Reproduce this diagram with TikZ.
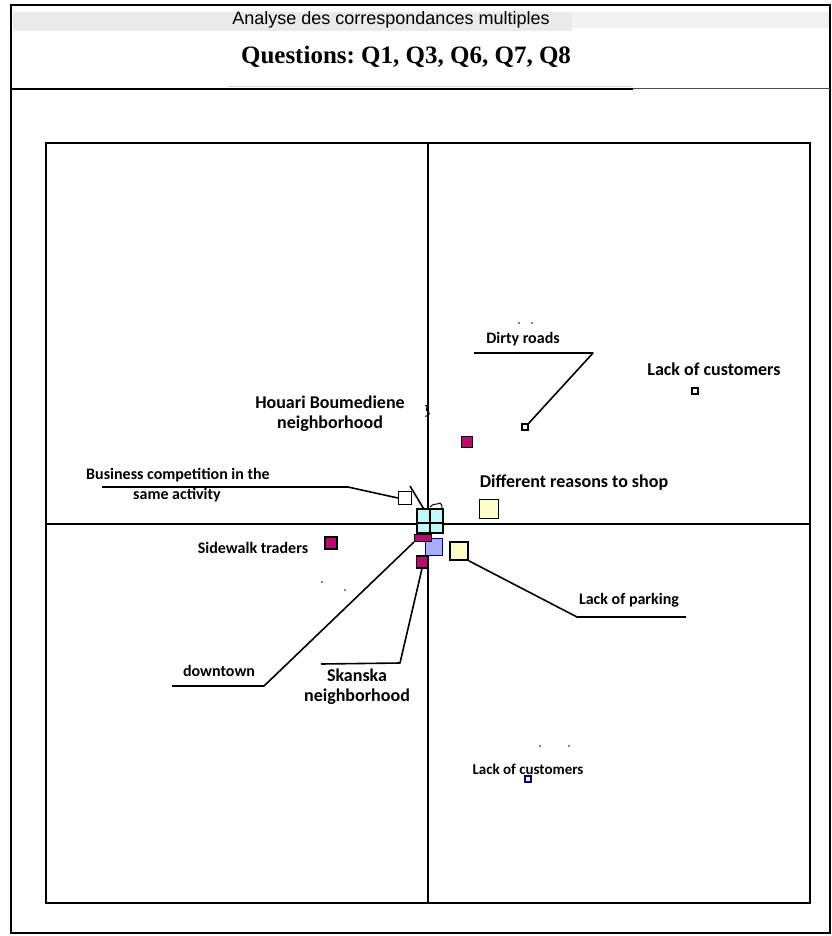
\documentclass[tikz,border=0pt]{standalone}
\usepackage{fontspec}
\setmainfont{Liberation Serif}
\newfontfamily\lblfont{Carlito}
\newfontfamily\hdrfont{Liberation Sans}
\definecolor{magC}{RGB}{185,10,110}
\definecolor{yelC}{RGB}{255,255,200}
\definecolor{cyaC}{RGB}{190,250,250}
\definecolor{bluC}{RGB}{170,172,255}
\definecolor{bandC}{RGB}{234,234,234}
\definecolor{bandD}{RGB}{242,242,242}
\frenchspacing
\begin{document}
\begin{tikzpicture}[x=1pt,y=-1pt,
  labL/.style={font=\lblfont\bfseries\fontsize{18}{20}\selectfont, inner sep=0pt, align=center},
  labS/.style={font=\lblfont\bfseries\fontsize{16}{19}\selectfont, inner sep=0pt, align=center},
  lead/.style={line width=1.6pt, black, line join=round},
  axisline/.style={line width=1.6pt, black},
  frameline/.style={line width=2pt, black},
  mk/.style={rectangle, inner sep=0pt, line width=1.1pt},
  magsq/.style={mk, draw=black, fill=magC},
  yelsq/.style={mk, draw=black, fill=yelC, line width=1.6pt},
  whisq/.style={mk, draw=black, fill=white},
  cyasq/.style={mk, draw=black, fill=cyaC},
  blusq/.style={mk, draw=blue!60!black, fill=bluC, line width=1.3pt},
  speck/.style={fill=black, inner sep=0pt, minimum size=1.6pt, circle}]
\useasboundingbox (0,0) rectangle (831,936);
\fill[white] (0,0) rectangle (831,936);
% header
\fill[bandD] (13,12) rectangle (829,28);
\fill[bandC] (13,12) rectangle (572,31);
\draw[frameline] (11,5) rectangle (830,933);
\draw[line width=2pt] (11,89) -- (633,89);
\draw[line width=1pt, black!70] (633,89) -- (830,89);
\draw[line width=0.8pt, black!15] (228,86) -- (633,86);
\node[inner sep=0pt] (title) at (391,20) {\hdrfont\fontsize{18}{20}\selectfont Analyse des correspondances multiples};
\node[inner sep=0pt] (questions) at (406,57) {\bfseries\fontsize{25}{28}\selectfont Questions: Q1, Q3, Q6, Q7, Q8};
% plot frame and axes
\draw[frameline] (46,143) rectangle (810,903);
\draw[axisline] (428,143) -- (428,903);
\draw[axisline] (46,524) -- (810,524);
% markers
\node[magsq, minimum size=11pt] (hb) at (467,442) {};
\node[magsq, minimum size=12pt] (sw) at (331,543) {};
\node[whisq, minimum size=6pt, line width=1.2pt] (dr) at (525,427) {};
\node[whisq, minimum size=6pt, line width=1.2pt] (lc1) at (695,391) {};
\node[whisq, draw=blue!50!black, minimum size=6pt, line width=1.2pt] (lc2) at (528,779) {};
\node[yelsq, minimum size=19pt] (drs) at (489,509) {};
\node[yelsq, minimum size=18pt] (lp) at (459,551) {};
\node[whisq, minimum size=13pt, line width=1.4pt] (bc) at (405,498) {};
\node[cyasq, minimum width=13pt, minimum height=14pt] (cy1) at (423.5,516) {};
\node[cyasq, minimum width=13pt, minimum height=14pt] (cy2) at (436.5,516) {};
\node[cyasq, minimum width=13pt, minimum height=10pt] (cy3) at (423.5,528) {};
\node[cyasq, minimum width=13pt, minimum height=10pt] (cy4) at (436.5,528) {};
\node[blusq, minimum size=17pt] (bl) at (434,547) {};
\node[magsq, minimum width=17pt, minimum height=7pt] (dt) at (423,538) {};
\node[magsq, minimum width=11pt, minimum height=12pt] (sk) at (422,562) {};
% labels
\node[labS] (bcA) at (178,475) {Business competition in the};
\node[labS] (bcB) at (177,495) {same activity};
\node[labL] (hbl) at (330,414) {Houari Boumediene\\neighborhood};
\node[labS] (swl) at (253,548) {Sidewalk traders};
\node[labS] (drl) at (523,339) {Dirty roads};
\node[labL] (lc1l) at (714,369) {Lack of customers};
\node[labL] (drsl) at (574,483) {Different reasons to shop};
\node[labS] (lpl) at (629,600) {Lack of parking};
\node[labS] (dtl) at (219,671) {downtown};
\node[labL] (skl) at (357,687) {Skanska\\neighborhood};
\node[labS, font=\lblfont\bfseries\fontsize{15}{17}\selectfont] (lc2l) at (528,769) {Lack of customers};
% leader coordinates
\coordinate (bcK) at (348,487);
\coordinate (bcE) at (102,487);
\coordinate (drK) at (593,353);
\coordinate (drE) at (474,353);
\coordinate (dtK) at (264,686);
\coordinate (dtE) at (172,686);
\coordinate (skK) at (400,663);
\coordinate (skE) at (321,664);
\coordinate (lpK) at (577,617);
\coordinate (lpE) at (686,617);
\coordinate (bcT) at (410,486);
% leaders
\draw[lead] (bc.west) -- (bcK) -- (bcE);
\draw[lead] (bcT) -- (cy1.north);
\draw[lead] (dr.north east) -- (drK) -- (drE);
\draw[lead] (dt.south west) -- (dtK) -- (dtE);
\draw[lead] (sk.south) -- (skK) -- (skE);
\draw[lead] (lp.south east) -- (lpK) -- (lpE);
% small squiggles and specks
\coordinate (sq1) at (425,406);
\draw[line width=1pt] (sq1) .. controls (431,404) and (423,410) .. (428,412) .. controls (432,414) and (426,417) .. (425,416);
\coordinate (sq2) at (430,507);
\draw[line width=1pt] (sq2) .. controls (433,503) and (437,505) .. (440,503) .. controls (442,504) and (442,506) .. (442,509);
\node[speck] (s1) at (519,323) {};
\node[speck] (s2) at (532,323) {};
\node[speck] (s3) at (322,582) {};
\node[speck] (s4) at (345,590) {};
\node[speck] (s5) at (540,746) {};
\node[speck] (s6) at (569,746) {};
\end{tikzpicture}
\end{document}
